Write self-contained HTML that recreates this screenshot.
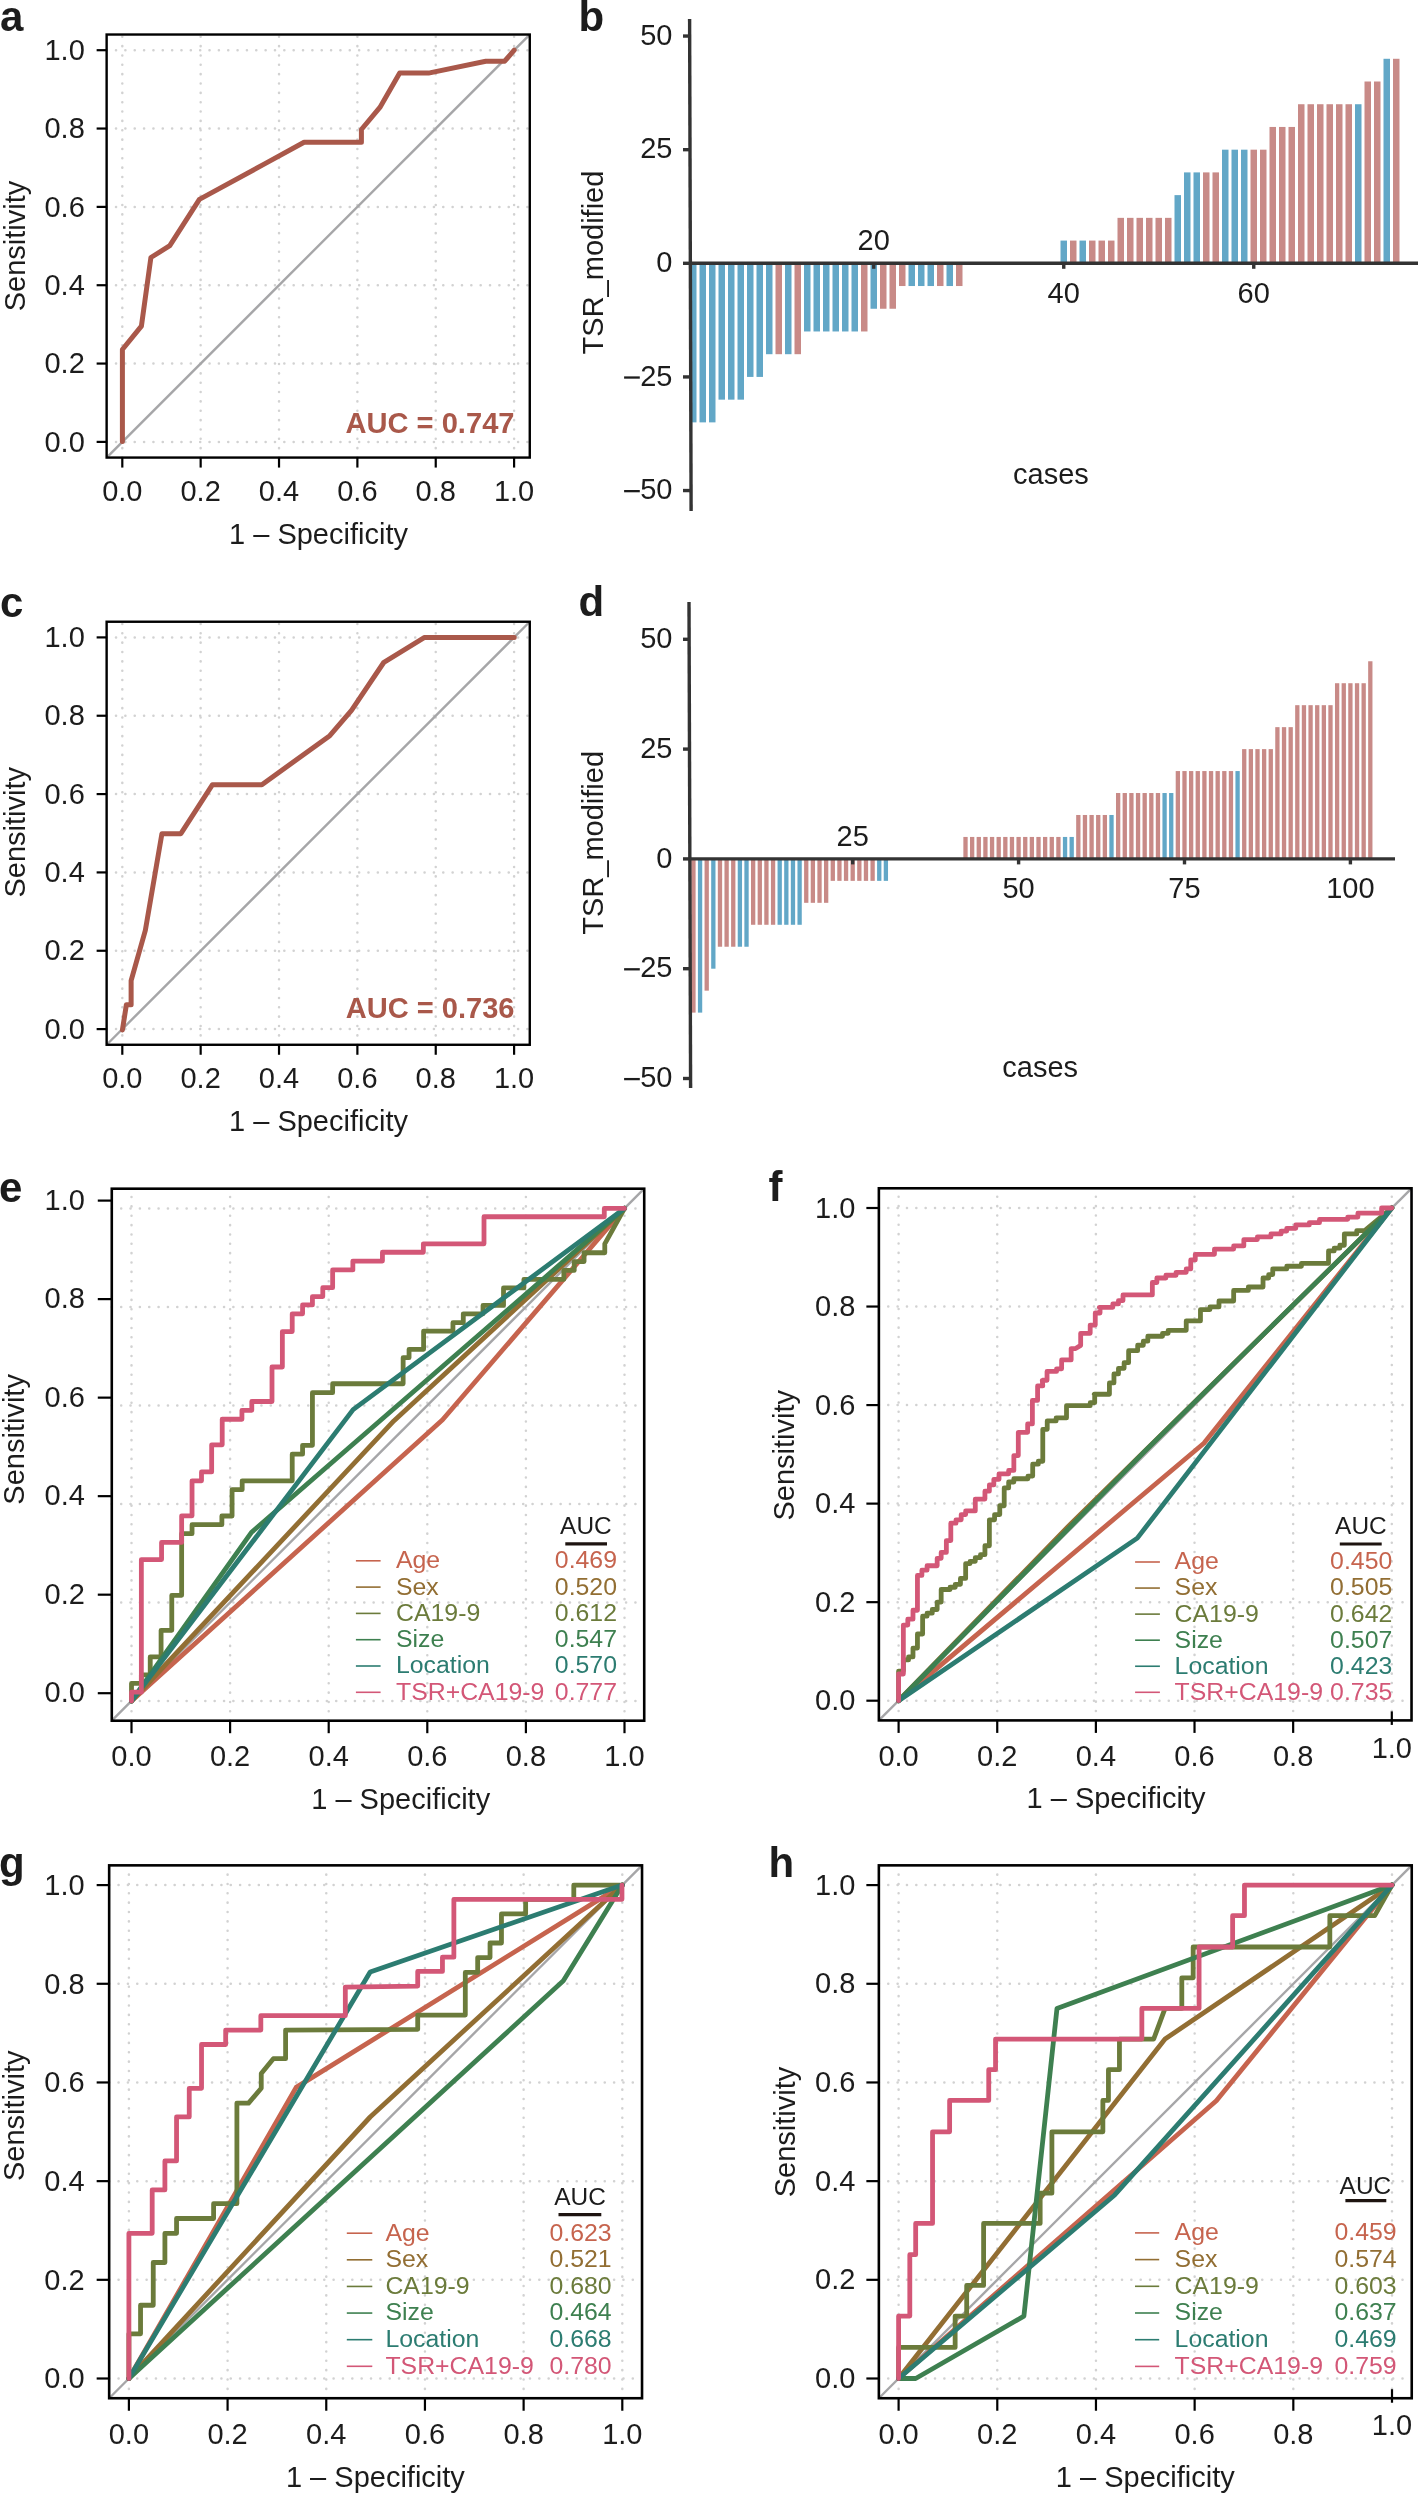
<!DOCTYPE html>
<html><head><meta charset="utf-8"><title>Figure</title><style>html,body{margin:0;padding:0;background:#fff;}svg{display:block;will-change:transform;}</style></head><body>
<svg width="1418" height="2493" viewBox="0 0 1418 2493" font-family='"Liberation Sans", sans-serif' fill="#1c1c1c">
<rect width="1418" height="2493" fill="#fff"/>
<line x1="122.3" y1="457.57" x2="122.3" y2="34.53" stroke="#d2d2d2" stroke-width="2.5" stroke-dasharray="0.1 9.25" stroke-linecap="round"/>
<line x1="106.63" y1="441.9" x2="529.77" y2="441.9" stroke="#d2d2d2" stroke-width="2.5" stroke-dasharray="0.1 9.25" stroke-linecap="round"/>
<line x1="200.66" y1="457.57" x2="200.66" y2="34.53" stroke="#d2d2d2" stroke-width="2.5" stroke-dasharray="0.1 9.25" stroke-linecap="round"/>
<line x1="106.63" y1="363.56" x2="529.77" y2="363.56" stroke="#d2d2d2" stroke-width="2.5" stroke-dasharray="0.1 9.25" stroke-linecap="round"/>
<line x1="279.02" y1="457.57" x2="279.02" y2="34.53" stroke="#d2d2d2" stroke-width="2.5" stroke-dasharray="0.1 9.25" stroke-linecap="round"/>
<line x1="106.63" y1="285.22" x2="529.77" y2="285.22" stroke="#d2d2d2" stroke-width="2.5" stroke-dasharray="0.1 9.25" stroke-linecap="round"/>
<line x1="357.38" y1="457.57" x2="357.38" y2="34.53" stroke="#d2d2d2" stroke-width="2.5" stroke-dasharray="0.1 9.25" stroke-linecap="round"/>
<line x1="106.63" y1="206.88" x2="529.77" y2="206.88" stroke="#d2d2d2" stroke-width="2.5" stroke-dasharray="0.1 9.25" stroke-linecap="round"/>
<line x1="435.74" y1="457.57" x2="435.74" y2="34.53" stroke="#d2d2d2" stroke-width="2.5" stroke-dasharray="0.1 9.25" stroke-linecap="round"/>
<line x1="106.63" y1="128.54" x2="529.77" y2="128.54" stroke="#d2d2d2" stroke-width="2.5" stroke-dasharray="0.1 9.25" stroke-linecap="round"/>
<line x1="514.1" y1="457.57" x2="514.1" y2="34.53" stroke="#d2d2d2" stroke-width="2.5" stroke-dasharray="0.1 9.25" stroke-linecap="round"/>
<line x1="106.63" y1="50.2" x2="529.77" y2="50.2" stroke="#d2d2d2" stroke-width="2.5" stroke-dasharray="0.1 9.25" stroke-linecap="round"/>
<line x1="106.63" y1="457.57" x2="529.77" y2="34.53" stroke="#a6a6a8" stroke-width="2.4"/>
<polyline points="122.4,441.5 122.4,349.5 141.4,326.2 150.9,257.5 169.8,245.7 199.4,199.4 264.6,163.9 304.1,142.2 361.4,142.2 361.4,129.5 379.9,107.4 399.7,73.1 428.5,73.1 485.8,61.2 504.7,61.2 514.2,50.2" fill="none" stroke="#a9584a" stroke-width="5" stroke-linejoin="round" stroke-linecap="round"/>
<rect x="106.63" y="34.53" width="423.14" height="423.04" fill="none" stroke="#000" stroke-width="2.4"/>
<line x1="106.63" y1="441.9" x2="96.63" y2="441.9" stroke="#000" stroke-width="2.2"/>
<line x1="122.3" y1="457.57" x2="122.3" y2="467.57" stroke="#000" stroke-width="2.2"/>
<text x="84.8" y="451.6" font-size="29" text-anchor="end">0.0</text>
<text x="122.3" y="501.4" font-size="29" text-anchor="middle">0.0</text>
<line x1="106.63" y1="363.56" x2="96.63" y2="363.56" stroke="#000" stroke-width="2.2"/>
<line x1="200.66" y1="457.57" x2="200.66" y2="467.57" stroke="#000" stroke-width="2.2"/>
<text x="84.8" y="373.26" font-size="29" text-anchor="end">0.2</text>
<text x="200.66" y="501.4" font-size="29" text-anchor="middle">0.2</text>
<line x1="106.63" y1="285.22" x2="96.63" y2="285.22" stroke="#000" stroke-width="2.2"/>
<line x1="279.02" y1="457.57" x2="279.02" y2="467.57" stroke="#000" stroke-width="2.2"/>
<text x="84.8" y="294.92" font-size="29" text-anchor="end">0.4</text>
<text x="279.02" y="501.4" font-size="29" text-anchor="middle">0.4</text>
<line x1="106.63" y1="206.88" x2="96.63" y2="206.88" stroke="#000" stroke-width="2.2"/>
<line x1="357.38" y1="457.57" x2="357.38" y2="467.57" stroke="#000" stroke-width="2.2"/>
<text x="84.8" y="216.58" font-size="29" text-anchor="end">0.6</text>
<text x="357.38" y="501.4" font-size="29" text-anchor="middle">0.6</text>
<line x1="106.63" y1="128.54" x2="96.63" y2="128.54" stroke="#000" stroke-width="2.2"/>
<line x1="435.74" y1="457.57" x2="435.74" y2="467.57" stroke="#000" stroke-width="2.2"/>
<text x="84.8" y="138.24" font-size="29" text-anchor="end">0.8</text>
<text x="435.74" y="501.4" font-size="29" text-anchor="middle">0.8</text>
<line x1="106.63" y1="50.2" x2="96.63" y2="50.2" stroke="#000" stroke-width="2.2"/>
<line x1="514.1" y1="457.57" x2="514.1" y2="467.57" stroke="#000" stroke-width="2.2"/>
<text x="84.8" y="59.9" font-size="29" text-anchor="end">1.0</text>
<text x="514.1" y="501.4" font-size="29" text-anchor="middle">1.0</text>
<text x="318.5" y="544.2" font-size="29" text-anchor="middle">1 – Specificity</text>
<text x="25.1" y="246" font-size="29" text-anchor="middle" transform="rotate(-90 25.1 246)">Sensitivity</text>
<text x="514.5" y="432.9" font-size="30.2" text-anchor="end" font-weight="bold" fill="#a9584a" textLength="169" lengthAdjust="spacingAndGlyphs">AUC = 0.747</text>
<text x="0" y="30.5" font-size="42" font-weight="bold">a</text>
<line x1="122.3" y1="1044.77" x2="122.3" y2="621.73" stroke="#d2d2d2" stroke-width="2.5" stroke-dasharray="0.1 9.25" stroke-linecap="round"/>
<line x1="106.63" y1="1029.1" x2="529.77" y2="1029.1" stroke="#d2d2d2" stroke-width="2.5" stroke-dasharray="0.1 9.25" stroke-linecap="round"/>
<line x1="200.66" y1="1044.77" x2="200.66" y2="621.73" stroke="#d2d2d2" stroke-width="2.5" stroke-dasharray="0.1 9.25" stroke-linecap="round"/>
<line x1="106.63" y1="950.76" x2="529.77" y2="950.76" stroke="#d2d2d2" stroke-width="2.5" stroke-dasharray="0.1 9.25" stroke-linecap="round"/>
<line x1="279.02" y1="1044.77" x2="279.02" y2="621.73" stroke="#d2d2d2" stroke-width="2.5" stroke-dasharray="0.1 9.25" stroke-linecap="round"/>
<line x1="106.63" y1="872.42" x2="529.77" y2="872.42" stroke="#d2d2d2" stroke-width="2.5" stroke-dasharray="0.1 9.25" stroke-linecap="round"/>
<line x1="357.38" y1="1044.77" x2="357.38" y2="621.73" stroke="#d2d2d2" stroke-width="2.5" stroke-dasharray="0.1 9.25" stroke-linecap="round"/>
<line x1="106.63" y1="794.08" x2="529.77" y2="794.08" stroke="#d2d2d2" stroke-width="2.5" stroke-dasharray="0.1 9.25" stroke-linecap="round"/>
<line x1="435.74" y1="1044.77" x2="435.74" y2="621.73" stroke="#d2d2d2" stroke-width="2.5" stroke-dasharray="0.1 9.25" stroke-linecap="round"/>
<line x1="106.63" y1="715.74" x2="529.77" y2="715.74" stroke="#d2d2d2" stroke-width="2.5" stroke-dasharray="0.1 9.25" stroke-linecap="round"/>
<line x1="514.1" y1="1044.77" x2="514.1" y2="621.73" stroke="#d2d2d2" stroke-width="2.5" stroke-dasharray="0.1 9.25" stroke-linecap="round"/>
<line x1="106.63" y1="637.4" x2="529.77" y2="637.4" stroke="#d2d2d2" stroke-width="2.5" stroke-dasharray="0.1 9.25" stroke-linecap="round"/>
<line x1="106.63" y1="1044.77" x2="529.77" y2="621.73" stroke="#a6a6a8" stroke-width="2.4"/>
<polyline points="122.43,1029.95 126.38,1004.68 131.12,1004.68 131.12,980.58 145.34,930.43 161.93,833.66 180.88,833.66 212.48,784.69 261.85,784.69 329.78,735.72 351.5,710.44 383.89,662.26 424.57,637.38 514.22,637.38" fill="none" stroke="#a9584a" stroke-width="5" stroke-linejoin="round" stroke-linecap="round"/>
<rect x="106.63" y="621.73" width="423.14" height="423.04" fill="none" stroke="#000" stroke-width="2.4"/>
<line x1="106.63" y1="1029.1" x2="96.63" y2="1029.1" stroke="#000" stroke-width="2.2"/>
<line x1="122.3" y1="1044.77" x2="122.3" y2="1054.77" stroke="#000" stroke-width="2.2"/>
<text x="84.8" y="1038.8" font-size="29" text-anchor="end">0.0</text>
<text x="122.3" y="1087.7" font-size="29" text-anchor="middle">0.0</text>
<line x1="106.63" y1="950.76" x2="96.63" y2="950.76" stroke="#000" stroke-width="2.2"/>
<line x1="200.66" y1="1044.77" x2="200.66" y2="1054.77" stroke="#000" stroke-width="2.2"/>
<text x="84.8" y="960.46" font-size="29" text-anchor="end">0.2</text>
<text x="200.66" y="1087.7" font-size="29" text-anchor="middle">0.2</text>
<line x1="106.63" y1="872.42" x2="96.63" y2="872.42" stroke="#000" stroke-width="2.2"/>
<line x1="279.02" y1="1044.77" x2="279.02" y2="1054.77" stroke="#000" stroke-width="2.2"/>
<text x="84.8" y="882.12" font-size="29" text-anchor="end">0.4</text>
<text x="279.02" y="1087.7" font-size="29" text-anchor="middle">0.4</text>
<line x1="106.63" y1="794.08" x2="96.63" y2="794.08" stroke="#000" stroke-width="2.2"/>
<line x1="357.38" y1="1044.77" x2="357.38" y2="1054.77" stroke="#000" stroke-width="2.2"/>
<text x="84.8" y="803.78" font-size="29" text-anchor="end">0.6</text>
<text x="357.38" y="1087.7" font-size="29" text-anchor="middle">0.6</text>
<line x1="106.63" y1="715.74" x2="96.63" y2="715.74" stroke="#000" stroke-width="2.2"/>
<line x1="435.74" y1="1044.77" x2="435.74" y2="1054.77" stroke="#000" stroke-width="2.2"/>
<text x="84.8" y="725.44" font-size="29" text-anchor="end">0.8</text>
<text x="435.74" y="1087.7" font-size="29" text-anchor="middle">0.8</text>
<line x1="106.63" y1="637.4" x2="96.63" y2="637.4" stroke="#000" stroke-width="2.2"/>
<line x1="514.1" y1="1044.77" x2="514.1" y2="1054.77" stroke="#000" stroke-width="2.2"/>
<text x="84.8" y="647.1" font-size="29" text-anchor="end">1.0</text>
<text x="514.1" y="1087.7" font-size="29" text-anchor="middle">1.0</text>
<text x="318.5" y="1130.5" font-size="29" text-anchor="middle">1 – Specificity</text>
<text x="25.1" y="832.3" font-size="29" text-anchor="middle" transform="rotate(-90 25.1 832.3)">Sensitivity</text>
<text x="514.5" y="1018.4" font-size="30.2" text-anchor="end" font-weight="bold" fill="#a9584a" textLength="168.77" lengthAdjust="spacingAndGlyphs">AUC = 0.736</text>
<text x="0" y="616.8" font-size="42" font-weight="bold">c</text>
<rect x="690" y="263.3" width="6.5" height="159.07" fill="#62a7c7"/>
<rect x="699.5" y="263.3" width="6.5" height="159.07" fill="#62a7c7"/>
<rect x="709" y="263.3" width="6.5" height="159.07" fill="#62a7c7"/>
<rect x="718.5" y="263.3" width="6.5" height="136.35" fill="#62a7c7"/>
<rect x="728" y="263.3" width="6.5" height="136.35" fill="#62a7c7"/>
<rect x="737.5" y="263.3" width="6.5" height="136.35" fill="#62a7c7"/>
<rect x="747" y="263.3" width="6.5" height="113.62" fill="#62a7c7"/>
<rect x="756.5" y="263.3" width="6.5" height="113.62" fill="#62a7c7"/>
<rect x="766" y="263.3" width="6.5" height="90.9" fill="#62a7c7"/>
<rect x="775.5" y="263.3" width="6.5" height="90.9" fill="#c88a87"/>
<rect x="785" y="263.3" width="6.5" height="90.9" fill="#62a7c7"/>
<rect x="794.5" y="263.3" width="6.5" height="90.9" fill="#c88a87"/>
<rect x="804" y="263.3" width="6.5" height="68.17" fill="#62a7c7"/>
<rect x="813.5" y="263.3" width="6.5" height="68.17" fill="#62a7c7"/>
<rect x="823" y="263.3" width="6.5" height="68.17" fill="#62a7c7"/>
<rect x="832.5" y="263.3" width="6.5" height="68.17" fill="#62a7c7"/>
<rect x="842" y="263.3" width="6.5" height="68.17" fill="#62a7c7"/>
<rect x="851.5" y="263.3" width="6.5" height="68.17" fill="#62a7c7"/>
<rect x="861" y="263.3" width="6.5" height="68.17" fill="#c88a87"/>
<rect x="870.5" y="263.3" width="6.5" height="45.45" fill="#62a7c7"/>
<rect x="880" y="263.3" width="6.5" height="45.45" fill="#c88a87"/>
<rect x="889.5" y="263.3" width="6.5" height="45.45" fill="#c88a87"/>
<rect x="899" y="263.3" width="6.5" height="22.73" fill="#c88a87"/>
<rect x="908.5" y="263.3" width="6.5" height="22.73" fill="#62a7c7"/>
<rect x="918" y="263.3" width="6.5" height="22.73" fill="#62a7c7"/>
<rect x="927.5" y="263.3" width="6.5" height="22.73" fill="#62a7c7"/>
<rect x="937" y="263.3" width="6.5" height="22.73" fill="#c88a87"/>
<rect x="946.5" y="263.3" width="6.5" height="22.73" fill="#62a7c7"/>
<rect x="956" y="263.3" width="6.5" height="22.73" fill="#c88a87"/>
<rect x="1060.5" y="240.58" width="6.5" height="22.73" fill="#62a7c7"/>
<rect x="1070" y="240.58" width="6.5" height="22.73" fill="#c88a87"/>
<rect x="1079.5" y="240.58" width="6.5" height="22.73" fill="#62a7c7"/>
<rect x="1089" y="240.58" width="6.5" height="22.73" fill="#c88a87"/>
<rect x="1098.5" y="240.58" width="6.5" height="22.73" fill="#c88a87"/>
<rect x="1108" y="240.58" width="6.5" height="22.73" fill="#c88a87"/>
<rect x="1117.5" y="217.85" width="6.5" height="45.45" fill="#c88a87"/>
<rect x="1127" y="217.85" width="6.5" height="45.45" fill="#c88a87"/>
<rect x="1136.5" y="217.85" width="6.5" height="45.45" fill="#c88a87"/>
<rect x="1146" y="217.85" width="6.5" height="45.45" fill="#c88a87"/>
<rect x="1155.5" y="217.85" width="6.5" height="45.45" fill="#c88a87"/>
<rect x="1165" y="217.85" width="6.5" height="45.45" fill="#c88a87"/>
<rect x="1174.5" y="195.12" width="6.5" height="68.17" fill="#62a7c7"/>
<rect x="1184" y="172.4" width="6.5" height="90.9" fill="#62a7c7"/>
<rect x="1193.5" y="172.4" width="6.5" height="90.9" fill="#62a7c7"/>
<rect x="1203" y="172.4" width="6.5" height="90.9" fill="#c88a87"/>
<rect x="1212.5" y="172.4" width="6.5" height="90.9" fill="#c88a87"/>
<rect x="1222" y="149.68" width="6.5" height="113.62" fill="#62a7c7"/>
<rect x="1231.5" y="149.68" width="6.5" height="113.62" fill="#62a7c7"/>
<rect x="1241" y="149.68" width="6.5" height="113.62" fill="#62a7c7"/>
<rect x="1250.5" y="149.68" width="6.5" height="113.62" fill="#c88a87"/>
<rect x="1260" y="149.68" width="6.5" height="113.62" fill="#c88a87"/>
<rect x="1269.5" y="126.95" width="6.5" height="136.35" fill="#c88a87"/>
<rect x="1279" y="126.95" width="6.5" height="136.35" fill="#c88a87"/>
<rect x="1288.5" y="126.95" width="6.5" height="136.35" fill="#c88a87"/>
<rect x="1298" y="104.23" width="6.5" height="159.07" fill="#c88a87"/>
<rect x="1307.5" y="104.23" width="6.5" height="159.07" fill="#c88a87"/>
<rect x="1317" y="104.23" width="6.5" height="159.07" fill="#c88a87"/>
<rect x="1326.5" y="104.23" width="6.5" height="159.07" fill="#c88a87"/>
<rect x="1336" y="104.23" width="6.5" height="159.07" fill="#c88a87"/>
<rect x="1345.5" y="104.23" width="6.5" height="159.07" fill="#c88a87"/>
<rect x="1355" y="104.23" width="6.5" height="159.07" fill="#62a7c7"/>
<rect x="1364.5" y="81.5" width="6.5" height="181.8" fill="#c88a87"/>
<rect x="1374" y="81.5" width="6.5" height="181.8" fill="#c88a87"/>
<rect x="1383.5" y="58.78" width="6.5" height="204.53" fill="#62a7c7"/>
<rect x="1393" y="58.78" width="6.5" height="204.53" fill="#c88a87"/>
<line x1="689.6" y1="19" x2="691.1" y2="511" stroke="#333333" stroke-width="3.4"/>
<line x1="690.34" y1="263.3" x2="1418" y2="263.3" stroke="#333333" stroke-width="3.4"/>
<line x1="683" y1="36.05" x2="689.65" y2="36.05" stroke="#333333" stroke-width="3.4"/>
<text x="672.5" y="44.75" font-size="29" text-anchor="end">50</text>
<line x1="683" y1="149.68" x2="690" y2="149.68" stroke="#333333" stroke-width="3.4"/>
<text x="672.5" y="158.38" font-size="29" text-anchor="end">25</text>
<line x1="683" y1="263.3" x2="690.34" y2="263.3" stroke="#333333" stroke-width="3.4"/>
<text x="672.5" y="272" font-size="29" text-anchor="end">0</text>
<line x1="683" y1="376.93" x2="690.69" y2="376.93" stroke="#333333" stroke-width="3.4"/>
<text x="672.5" y="385.62" font-size="29" text-anchor="end">25</text>
<line x1="624.1" y1="377.53" x2="639.8" y2="377.53" stroke="#1c1c1c" stroke-width="2.3"/>
<line x1="683" y1="490.55" x2="691.04" y2="490.55" stroke="#333333" stroke-width="3.4"/>
<text x="672.5" y="499.25" font-size="29" text-anchor="end">50</text>
<line x1="624.1" y1="491.15" x2="639.8" y2="491.15" stroke="#1c1c1c" stroke-width="2.3"/>
<line x1="873.75" y1="263.3" x2="873.75" y2="268.8" stroke="#333333" stroke-width="3.4"/>
<text x="873.75" y="250.1" font-size="29" text-anchor="middle">20</text>
<line x1="1063.75" y1="263.3" x2="1063.75" y2="268.8" stroke="#333333" stroke-width="3.4"/>
<text x="1063.75" y="302.8" font-size="29" text-anchor="middle">40</text>
<line x1="1253.75" y1="263.3" x2="1253.75" y2="268.8" stroke="#333333" stroke-width="3.4"/>
<text x="1253.75" y="302.8" font-size="29" text-anchor="middle">60</text>
<text x="602.8" y="262.5" font-size="29" text-anchor="middle" transform="rotate(-90 602.8 262.5)">TSR_modified</text>
<text x="1051" y="484" font-size="29" text-anchor="middle">cases</text>
<text x="578.5" y="30.5" font-size="42" font-weight="bold">b</text>
<rect x="691.29" y="858.9" width="4.3" height="153.72" fill="#c88a87"/>
<rect x="697.92" y="858.9" width="4.3" height="153.72" fill="#62a7c7"/>
<rect x="704.56" y="858.9" width="4.3" height="131.76" fill="#c88a87"/>
<rect x="711.19" y="858.9" width="4.3" height="109.8" fill="#62a7c7"/>
<rect x="717.83" y="858.9" width="4.3" height="87.84" fill="#c88a87"/>
<rect x="724.47" y="858.9" width="4.3" height="87.84" fill="#c88a87"/>
<rect x="731.1" y="858.9" width="4.3" height="87.84" fill="#c88a87"/>
<rect x="737.74" y="858.9" width="4.3" height="87.84" fill="#62a7c7"/>
<rect x="744.37" y="858.9" width="4.3" height="87.84" fill="#62a7c7"/>
<rect x="751.01" y="858.9" width="4.3" height="65.88" fill="#c88a87"/>
<rect x="757.65" y="858.9" width="4.3" height="65.88" fill="#c88a87"/>
<rect x="764.28" y="858.9" width="4.3" height="65.88" fill="#c88a87"/>
<rect x="770.92" y="858.9" width="4.3" height="65.88" fill="#c88a87"/>
<rect x="777.55" y="858.9" width="4.3" height="65.88" fill="#62a7c7"/>
<rect x="784.19" y="858.9" width="4.3" height="65.88" fill="#62a7c7"/>
<rect x="790.83" y="858.9" width="4.3" height="65.88" fill="#62a7c7"/>
<rect x="797.46" y="858.9" width="4.3" height="65.88" fill="#62a7c7"/>
<rect x="804.1" y="858.9" width="4.3" height="43.92" fill="#c88a87"/>
<rect x="810.73" y="858.9" width="4.3" height="43.92" fill="#c88a87"/>
<rect x="817.37" y="858.9" width="4.3" height="43.92" fill="#c88a87"/>
<rect x="824.01" y="858.9" width="4.3" height="43.92" fill="#c88a87"/>
<rect x="830.64" y="858.9" width="4.3" height="21.96" fill="#c88a87"/>
<rect x="837.28" y="858.9" width="4.3" height="21.96" fill="#c88a87"/>
<rect x="843.91" y="858.9" width="4.3" height="21.96" fill="#c88a87"/>
<rect x="850.55" y="858.9" width="4.3" height="21.96" fill="#c88a87"/>
<rect x="857.19" y="858.9" width="4.3" height="21.96" fill="#c88a87"/>
<rect x="863.82" y="858.9" width="4.3" height="21.96" fill="#c88a87"/>
<rect x="870.46" y="858.9" width="4.3" height="21.96" fill="#c88a87"/>
<rect x="877.09" y="858.9" width="4.3" height="21.96" fill="#62a7c7"/>
<rect x="883.73" y="858.9" width="4.3" height="21.96" fill="#62a7c7"/>
<rect x="963.36" y="836.94" width="4.3" height="21.96" fill="#c88a87"/>
<rect x="970" y="836.94" width="4.3" height="21.96" fill="#c88a87"/>
<rect x="976.63" y="836.94" width="4.3" height="21.96" fill="#c88a87"/>
<rect x="983.27" y="836.94" width="4.3" height="21.96" fill="#c88a87"/>
<rect x="989.91" y="836.94" width="4.3" height="21.96" fill="#c88a87"/>
<rect x="996.54" y="836.94" width="4.3" height="21.96" fill="#c88a87"/>
<rect x="1003.18" y="836.94" width="4.3" height="21.96" fill="#c88a87"/>
<rect x="1009.81" y="836.94" width="4.3" height="21.96" fill="#c88a87"/>
<rect x="1016.45" y="836.94" width="4.3" height="21.96" fill="#c88a87"/>
<rect x="1023.09" y="836.94" width="4.3" height="21.96" fill="#c88a87"/>
<rect x="1029.72" y="836.94" width="4.3" height="21.96" fill="#c88a87"/>
<rect x="1036.36" y="836.94" width="4.3" height="21.96" fill="#c88a87"/>
<rect x="1042.99" y="836.94" width="4.3" height="21.96" fill="#c88a87"/>
<rect x="1049.63" y="836.94" width="4.3" height="21.96" fill="#c88a87"/>
<rect x="1056.27" y="836.94" width="4.3" height="21.96" fill="#c88a87"/>
<rect x="1062.9" y="836.94" width="4.3" height="21.96" fill="#62a7c7"/>
<rect x="1069.54" y="836.94" width="4.3" height="21.96" fill="#62a7c7"/>
<rect x="1076.17" y="814.98" width="4.3" height="43.92" fill="#c88a87"/>
<rect x="1082.81" y="814.98" width="4.3" height="43.92" fill="#c88a87"/>
<rect x="1089.45" y="814.98" width="4.3" height="43.92" fill="#c88a87"/>
<rect x="1096.08" y="814.98" width="4.3" height="43.92" fill="#c88a87"/>
<rect x="1102.72" y="814.98" width="4.3" height="43.92" fill="#c88a87"/>
<rect x="1109.35" y="814.98" width="4.3" height="43.92" fill="#62a7c7"/>
<rect x="1115.99" y="793.02" width="4.3" height="65.88" fill="#c88a87"/>
<rect x="1122.63" y="793.02" width="4.3" height="65.88" fill="#c88a87"/>
<rect x="1129.26" y="793.02" width="4.3" height="65.88" fill="#c88a87"/>
<rect x="1135.9" y="793.02" width="4.3" height="65.88" fill="#c88a87"/>
<rect x="1142.53" y="793.02" width="4.3" height="65.88" fill="#c88a87"/>
<rect x="1149.17" y="793.02" width="4.3" height="65.88" fill="#c88a87"/>
<rect x="1155.81" y="793.02" width="4.3" height="65.88" fill="#c88a87"/>
<rect x="1162.44" y="793.02" width="4.3" height="65.88" fill="#62a7c7"/>
<rect x="1169.08" y="793.02" width="4.3" height="65.88" fill="#62a7c7"/>
<rect x="1175.71" y="771.06" width="4.3" height="87.84" fill="#c88a87"/>
<rect x="1182.35" y="771.06" width="4.3" height="87.84" fill="#c88a87"/>
<rect x="1188.99" y="771.06" width="4.3" height="87.84" fill="#c88a87"/>
<rect x="1195.62" y="771.06" width="4.3" height="87.84" fill="#c88a87"/>
<rect x="1202.26" y="771.06" width="4.3" height="87.84" fill="#c88a87"/>
<rect x="1208.89" y="771.06" width="4.3" height="87.84" fill="#c88a87"/>
<rect x="1215.53" y="771.06" width="4.3" height="87.84" fill="#c88a87"/>
<rect x="1222.17" y="771.06" width="4.3" height="87.84" fill="#c88a87"/>
<rect x="1228.8" y="771.06" width="4.3" height="87.84" fill="#c88a87"/>
<rect x="1235.44" y="771.06" width="4.3" height="87.84" fill="#62a7c7"/>
<rect x="1242.07" y="749.1" width="4.3" height="109.8" fill="#c88a87"/>
<rect x="1248.71" y="749.1" width="4.3" height="109.8" fill="#c88a87"/>
<rect x="1255.35" y="749.1" width="4.3" height="109.8" fill="#c88a87"/>
<rect x="1261.98" y="749.1" width="4.3" height="109.8" fill="#c88a87"/>
<rect x="1268.62" y="749.1" width="4.3" height="109.8" fill="#c88a87"/>
<rect x="1275.25" y="727.14" width="4.3" height="131.76" fill="#c88a87"/>
<rect x="1281.89" y="727.14" width="4.3" height="131.76" fill="#c88a87"/>
<rect x="1288.53" y="727.14" width="4.3" height="131.76" fill="#c88a87"/>
<rect x="1295.16" y="705.18" width="4.3" height="153.72" fill="#c88a87"/>
<rect x="1301.8" y="705.18" width="4.3" height="153.72" fill="#c88a87"/>
<rect x="1308.43" y="705.18" width="4.3" height="153.72" fill="#c88a87"/>
<rect x="1315.07" y="705.18" width="4.3" height="153.72" fill="#c88a87"/>
<rect x="1321.71" y="705.18" width="4.3" height="153.72" fill="#c88a87"/>
<rect x="1328.34" y="705.18" width="4.3" height="153.72" fill="#c88a87"/>
<rect x="1334.98" y="683.22" width="4.3" height="175.68" fill="#c88a87"/>
<rect x="1341.61" y="683.22" width="4.3" height="175.68" fill="#c88a87"/>
<rect x="1348.25" y="683.22" width="4.3" height="175.68" fill="#c88a87"/>
<rect x="1354.89" y="683.22" width="4.3" height="175.68" fill="#c88a87"/>
<rect x="1361.52" y="683.22" width="4.3" height="175.68" fill="#c88a87"/>
<rect x="1368.16" y="661.26" width="4.3" height="197.64" fill="#c88a87"/>
<line x1="689" y1="602" x2="690.6" y2="1088" stroke="#333333" stroke-width="3.4"/>
<line x1="689.85" y1="858.9" x2="1395" y2="858.9" stroke="#333333" stroke-width="3.4"/>
<line x1="683" y1="639.3" x2="689.12" y2="639.3" stroke="#333333" stroke-width="3.4"/>
<text x="672.5" y="648" font-size="29" text-anchor="end">50</text>
<line x1="683" y1="749.1" x2="689.48" y2="749.1" stroke="#333333" stroke-width="3.4"/>
<text x="672.5" y="757.8" font-size="29" text-anchor="end">25</text>
<line x1="683" y1="858.9" x2="689.85" y2="858.9" stroke="#333333" stroke-width="3.4"/>
<text x="672.5" y="867.6" font-size="29" text-anchor="end">0</text>
<line x1="683" y1="968.7" x2="690.21" y2="968.7" stroke="#333333" stroke-width="3.4"/>
<text x="672.5" y="977.4" font-size="29" text-anchor="end">25</text>
<line x1="624.1" y1="969.3" x2="639.8" y2="969.3" stroke="#1c1c1c" stroke-width="2.3"/>
<line x1="683" y1="1078.5" x2="690.57" y2="1078.5" stroke="#333333" stroke-width="3.4"/>
<text x="672.5" y="1087.2" font-size="29" text-anchor="end">50</text>
<line x1="624.1" y1="1079.1" x2="639.8" y2="1079.1" stroke="#1c1c1c" stroke-width="2.3"/>
<line x1="852.7" y1="858.9" x2="852.7" y2="864.4" stroke="#333333" stroke-width="3.4"/>
<text x="852.7" y="845.7" font-size="29" text-anchor="middle">25</text>
<line x1="1018.6" y1="858.9" x2="1018.6" y2="864.4" stroke="#333333" stroke-width="3.4"/>
<text x="1018.6" y="898.4" font-size="29" text-anchor="middle">50</text>
<line x1="1184.5" y1="858.9" x2="1184.5" y2="864.4" stroke="#333333" stroke-width="3.4"/>
<text x="1184.5" y="898.4" font-size="29" text-anchor="middle">75</text>
<line x1="1350.4" y1="858.9" x2="1350.4" y2="864.4" stroke="#333333" stroke-width="3.4"/>
<text x="1350.4" y="898.4" font-size="29" text-anchor="middle">100</text>
<text x="602.8" y="842.8" font-size="29" text-anchor="middle" transform="rotate(-90 602.8 842.8)">TSR_modified</text>
<text x="1040.2" y="1076.7" font-size="29" text-anchor="middle">cases</text>
<text x="578.5" y="616" font-size="42" font-weight="bold">d</text>
<line x1="131.5" y1="1720.7" x2="131.5" y2="1188.7" stroke="#d2d2d2" stroke-width="2.5" stroke-dasharray="0.1 9.25" stroke-linecap="round"/>
<line x1="111.78" y1="1701" x2="644.22" y2="1701" stroke="#d2d2d2" stroke-width="2.5" stroke-dasharray="0.1 9.25" stroke-linecap="round"/>
<line x1="230.1" y1="1720.7" x2="230.1" y2="1188.7" stroke="#d2d2d2" stroke-width="2.5" stroke-dasharray="0.1 9.25" stroke-linecap="round"/>
<line x1="111.78" y1="1602.48" x2="644.22" y2="1602.48" stroke="#d2d2d2" stroke-width="2.5" stroke-dasharray="0.1 9.25" stroke-linecap="round"/>
<line x1="328.7" y1="1720.7" x2="328.7" y2="1188.7" stroke="#d2d2d2" stroke-width="2.5" stroke-dasharray="0.1 9.25" stroke-linecap="round"/>
<line x1="111.78" y1="1503.96" x2="644.22" y2="1503.96" stroke="#d2d2d2" stroke-width="2.5" stroke-dasharray="0.1 9.25" stroke-linecap="round"/>
<line x1="427.3" y1="1720.7" x2="427.3" y2="1188.7" stroke="#d2d2d2" stroke-width="2.5" stroke-dasharray="0.1 9.25" stroke-linecap="round"/>
<line x1="111.78" y1="1405.44" x2="644.22" y2="1405.44" stroke="#d2d2d2" stroke-width="2.5" stroke-dasharray="0.1 9.25" stroke-linecap="round"/>
<line x1="525.9" y1="1720.7" x2="525.9" y2="1188.7" stroke="#d2d2d2" stroke-width="2.5" stroke-dasharray="0.1 9.25" stroke-linecap="round"/>
<line x1="111.78" y1="1306.92" x2="644.22" y2="1306.92" stroke="#d2d2d2" stroke-width="2.5" stroke-dasharray="0.1 9.25" stroke-linecap="round"/>
<line x1="624.5" y1="1720.7" x2="624.5" y2="1188.7" stroke="#d2d2d2" stroke-width="2.5" stroke-dasharray="0.1 9.25" stroke-linecap="round"/>
<line x1="111.78" y1="1208.4" x2="644.22" y2="1208.4" stroke="#d2d2d2" stroke-width="2.5" stroke-dasharray="0.1 9.25" stroke-linecap="round"/>
<line x1="111.78" y1="1720.7" x2="644.22" y2="1188.7" stroke="#a6a6a8" stroke-width="2.4"/>
<polyline points="131.5,1701 442.58,1419.73 624.5,1208.4" fill="none" stroke="#c6644e" stroke-width="4.8" stroke-linejoin="round" stroke-linecap="round"/>
<polyline points="131.5,1701 393.78,1420.96 624.5,1208.4" fill="none" stroke="#926e33" stroke-width="4.8" stroke-linejoin="round" stroke-linecap="round"/>
<polyline points="131.5,1701 131.5,1683.46 141.36,1683.46 141.36,1674.89 150.23,1674.89 150.23,1656.91 161.08,1656.91 161.08,1630.36 171.78,1630.36 171.78,1595.29 181.64,1595.29 181.64,1533.66 192.04,1533.66 192.04,1524.65 221.87,1524.65 221.87,1515.98 232.07,1515.98 232.07,1489.67 242.18,1489.67 242.18,1480.81 292.22,1480.81 292.22,1454.21 302.57,1454.21 302.57,1445.34 312.43,1445.34 312.43,1392.63 332.64,1392.63 332.64,1383.77 403.14,1383.77 403.14,1357.66 409.06,1357.66 409.06,1349.28 423.6,1349.28 423.6,1331.06 452.94,1331.06 452.94,1322.68 463.29,1322.68 463.29,1313.82 483.01,1313.82 483.01,1305.44 503.52,1305.44 503.52,1287.95 523.93,1287.95 523.93,1279.33 563.86,1279.33 563.86,1270.47 574.21,1270.47 574.21,1261.6 584.07,1261.6 584.07,1252.73 604.78,1252.73 604.78,1243.87 624.5,1208.4" fill="none" stroke="#6b7b3b" stroke-width="4.8" stroke-linejoin="round" stroke-linecap="round"/>
<polyline points="131.5,1701 251.3,1532.53 624.5,1208.4" fill="none" stroke="#3e8050" stroke-width="4.8" stroke-linejoin="round" stroke-linecap="round"/>
<polyline points="131.5,1701 353.1,1409.63 624.5,1208.4" fill="none" stroke="#2c7c71" stroke-width="4.8" stroke-linejoin="round" stroke-linecap="round"/>
<polyline points="131.5,1701 131.5,1692.13 141.36,1692.13 141.36,1559.62 161.57,1559.62 161.57,1542.38 181.64,1542.38 181.64,1515.78 192.04,1515.78 192.04,1480.81 201.51,1480.81 201.51,1471.94 211.66,1471.94 211.66,1444.85 222.21,1444.85 222.21,1419.23 241.93,1419.23 241.93,1410.37 251.79,1410.37 251.79,1401.5 272,1401.5 272,1367.02 282.36,1367.02 282.36,1331.55 292.22,1331.55 292.22,1313.82 302.57,1313.82 302.57,1304.95 312.43,1304.95 312.43,1296.58 322.78,1296.58 322.78,1287.71 332.64,1287.71 332.64,1269.97 352.86,1269.97 352.86,1261.11 382.44,1261.11 382.44,1252.24 423.36,1252.24 423.36,1243.87 484,1243.87 484,1216.77 604.29,1216.77 604.29,1208.4 624.5,1208.4" fill="none" stroke="#d35777" stroke-width="4.8" stroke-linejoin="round" stroke-linecap="round"/>
<rect x="111.78" y="1188.7" width="532.44" height="532.01" fill="none" stroke="#000" stroke-width="2.6"/>
<line x1="111.78" y1="1693.2" x2="97.78" y2="1693.2" stroke="#000" stroke-width="2.2"/>
<text x="84.9" y="1702.4" font-size="29" text-anchor="end">0.0</text>
<line x1="131.5" y1="1720.7" x2="131.5" y2="1733.2" stroke="#000" stroke-width="2.2"/>
<text x="131.5" y="1766" font-size="29" text-anchor="middle">0.0</text>
<line x1="111.78" y1="1594.68" x2="97.78" y2="1594.68" stroke="#000" stroke-width="2.2"/>
<text x="84.9" y="1603.88" font-size="29" text-anchor="end">0.2</text>
<line x1="230.1" y1="1720.7" x2="230.1" y2="1733.2" stroke="#000" stroke-width="2.2"/>
<text x="230.1" y="1766" font-size="29" text-anchor="middle">0.2</text>
<line x1="111.78" y1="1496.16" x2="97.78" y2="1496.16" stroke="#000" stroke-width="2.2"/>
<text x="84.9" y="1505.36" font-size="29" text-anchor="end">0.4</text>
<line x1="328.7" y1="1720.7" x2="328.7" y2="1733.2" stroke="#000" stroke-width="2.2"/>
<text x="328.7" y="1766" font-size="29" text-anchor="middle">0.4</text>
<line x1="111.78" y1="1397.64" x2="97.78" y2="1397.64" stroke="#000" stroke-width="2.2"/>
<text x="84.9" y="1406.84" font-size="29" text-anchor="end">0.6</text>
<line x1="427.3" y1="1720.7" x2="427.3" y2="1733.2" stroke="#000" stroke-width="2.2"/>
<text x="427.3" y="1766" font-size="29" text-anchor="middle">0.6</text>
<line x1="111.78" y1="1299.12" x2="97.78" y2="1299.12" stroke="#000" stroke-width="2.2"/>
<text x="84.9" y="1308.32" font-size="29" text-anchor="end">0.8</text>
<line x1="525.9" y1="1720.7" x2="525.9" y2="1733.2" stroke="#000" stroke-width="2.2"/>
<text x="525.9" y="1766" font-size="29" text-anchor="middle">0.8</text>
<line x1="111.78" y1="1200.6" x2="97.78" y2="1200.6" stroke="#000" stroke-width="2.2"/>
<text x="84.9" y="1209.8" font-size="29" text-anchor="end">1.0</text>
<line x1="624.5" y1="1720.7" x2="624.5" y2="1733.2" stroke="#000" stroke-width="2.2"/>
<text x="624.5" y="1766" font-size="29" text-anchor="middle">1.0</text>
<text x="400.7" y="1809" font-size="29" text-anchor="middle">1 – Specificity</text>
<text x="24.5" y="1439.4" font-size="29" text-anchor="middle" transform="rotate(-90 24.5 1439.4)">Sensitivity</text>
<line x1="355.9" y1="1560.8" x2="380.6" y2="1560.8" stroke="#c6644e" stroke-width="1.6"/>
<text x="396" y="1568.2" font-size="23" fill="#c6644e" textLength="44.2" lengthAdjust="spacingAndGlyphs">Age</text>
<text x="617" y="1568.2" font-size="23" text-anchor="end" fill="#c6644e" textLength="62.16" lengthAdjust="spacingAndGlyphs">0.469</text>
<line x1="355.9" y1="1587.1" x2="380.6" y2="1587.1" stroke="#926e33" stroke-width="1.6"/>
<text x="396" y="1594.5" font-size="23" fill="#926e33" textLength="42.8" lengthAdjust="spacingAndGlyphs">Sex</text>
<text x="617" y="1594.5" font-size="23" text-anchor="end" fill="#926e33" textLength="62.16" lengthAdjust="spacingAndGlyphs">0.520</text>
<line x1="355.9" y1="1613.4" x2="380.6" y2="1613.4" stroke="#6b7b3b" stroke-width="1.6"/>
<text x="396" y="1620.8" font-size="23" fill="#6b7b3b" textLength="84.22" lengthAdjust="spacingAndGlyphs">CA19-9</text>
<text x="617" y="1620.8" font-size="23" text-anchor="end" fill="#6b7b3b" textLength="62.16" lengthAdjust="spacingAndGlyphs">0.612</text>
<line x1="355.9" y1="1639.7" x2="380.6" y2="1639.7" stroke="#3e8050" stroke-width="1.6"/>
<text x="396" y="1647.1" font-size="23" fill="#3e8050" textLength="48.32" lengthAdjust="spacingAndGlyphs">Size</text>
<text x="617" y="1647.1" font-size="23" text-anchor="end" fill="#3e8050" textLength="62.16" lengthAdjust="spacingAndGlyphs">0.547</text>
<line x1="355.9" y1="1666" x2="380.6" y2="1666" stroke="#2c7c71" stroke-width="1.6"/>
<text x="396" y="1673.4" font-size="23" fill="#2c7c71" textLength="93.91" lengthAdjust="spacingAndGlyphs">Location</text>
<text x="617" y="1673.4" font-size="23" text-anchor="end" fill="#2c7c71" textLength="62.16" lengthAdjust="spacingAndGlyphs">0.570</text>
<line x1="355.9" y1="1692.3" x2="380.6" y2="1692.3" stroke="#d35777" stroke-width="1.6"/>
<text x="396" y="1699.7" font-size="23" fill="#d35777" textLength="148.41" lengthAdjust="spacingAndGlyphs">TSR+CA19-9</text>
<text x="617" y="1699.7" font-size="23" text-anchor="end" fill="#d35777" textLength="62.16" lengthAdjust="spacingAndGlyphs">0.777</text>
<text x="585.9" y="1533.7" font-size="23.5" text-anchor="middle" textLength="51.6" lengthAdjust="spacingAndGlyphs">AUC</text>
<line x1="565.3" y1="1543.9" x2="607" y2="1543.9" stroke="#1e1410" stroke-width="3.2"/>
<text x="-1" y="1201.5" font-size="42" font-weight="bold">e</text>
<line x1="898.6" y1="1720.41" x2="898.6" y2="1188.29" stroke="#d2d2d2" stroke-width="2.5" stroke-dasharray="0.1 9.25" stroke-linecap="round"/>
<line x1="878.87" y1="1700.7" x2="1411.53" y2="1700.7" stroke="#d2d2d2" stroke-width="2.5" stroke-dasharray="0.1 9.25" stroke-linecap="round"/>
<line x1="997.24" y1="1720.41" x2="997.24" y2="1188.29" stroke="#d2d2d2" stroke-width="2.5" stroke-dasharray="0.1 9.25" stroke-linecap="round"/>
<line x1="878.87" y1="1602.16" x2="1411.53" y2="1602.16" stroke="#d2d2d2" stroke-width="2.5" stroke-dasharray="0.1 9.25" stroke-linecap="round"/>
<line x1="1095.88" y1="1720.41" x2="1095.88" y2="1188.29" stroke="#d2d2d2" stroke-width="2.5" stroke-dasharray="0.1 9.25" stroke-linecap="round"/>
<line x1="878.87" y1="1503.62" x2="1411.53" y2="1503.62" stroke="#d2d2d2" stroke-width="2.5" stroke-dasharray="0.1 9.25" stroke-linecap="round"/>
<line x1="1194.52" y1="1720.41" x2="1194.52" y2="1188.29" stroke="#d2d2d2" stroke-width="2.5" stroke-dasharray="0.1 9.25" stroke-linecap="round"/>
<line x1="878.87" y1="1405.08" x2="1411.53" y2="1405.08" stroke="#d2d2d2" stroke-width="2.5" stroke-dasharray="0.1 9.25" stroke-linecap="round"/>
<line x1="1293.16" y1="1720.41" x2="1293.16" y2="1188.29" stroke="#d2d2d2" stroke-width="2.5" stroke-dasharray="0.1 9.25" stroke-linecap="round"/>
<line x1="878.87" y1="1306.54" x2="1411.53" y2="1306.54" stroke="#d2d2d2" stroke-width="2.5" stroke-dasharray="0.1 9.25" stroke-linecap="round"/>
<line x1="1391.8" y1="1720.41" x2="1391.8" y2="1188.29" stroke="#d2d2d2" stroke-width="2.5" stroke-dasharray="0.1 9.25" stroke-linecap="round"/>
<line x1="878.87" y1="1208" x2="1411.53" y2="1208" stroke="#d2d2d2" stroke-width="2.5" stroke-dasharray="0.1 9.25" stroke-linecap="round"/>
<line x1="878.87" y1="1720.41" x2="1411.53" y2="1188.29" stroke="#a6a6a8" stroke-width="2.4"/>
<polyline points="898.6,1700.7 1203.89,1443.26 1391.8,1208" fill="none" stroke="#c6644e" stroke-width="4.8" stroke-linejoin="round" stroke-linecap="round"/>
<polyline points="898.6,1700.7 1071.22,1523.33 1391.8,1208" fill="none" stroke="#926e33" stroke-width="4.8" stroke-linejoin="round" stroke-linecap="round"/>
<polyline points="898.6,1700.7 898.6,1671.05 903.35,1671.05 903.35,1659.93 908.54,1659.93 908.54,1656.96 912.99,1656.96 912.99,1648.06 917.44,1648.06 917.44,1633.98 922.63,1633.98 922.63,1616.19 927.08,1616.19 927.08,1613.22 932.27,1613.22 932.27,1609.51 937.17,1609.51 937.17,1602.1 941.17,1602.1 941.17,1589.5 950.07,1589.5 950.07,1587.27 955.26,1587.27 955.26,1584.31 960.45,1584.31 960.45,1578.38 965.65,1578.38 965.65,1563.55 970.1,1563.55 970.1,1561.33 975.29,1561.33 975.29,1557.62 980.48,1557.62 980.48,1554.65 984.93,1554.65 984.93,1545.76 989.38,1545.76 989.38,1519.81 994.57,1519.81 994.57,1514.62 999.76,1514.62 999.76,1505.73 1004.21,1505.73 1004.21,1487.93 1008.66,1487.93 1008.66,1482 1013.85,1482 1013.85,1478.74 1027.94,1478.74 1027.94,1476.07 1032.69,1476.07 1032.69,1464.21 1038.33,1464.21 1038.33,1461.24 1042.78,1461.24 1042.78,1429.37 1047.23,1429.37 1047.23,1420.92 1056.13,1420.92 1056.13,1417.95 1066.51,1417.95 1066.51,1405.64 1090.24,1405.64 1090.24,1402.68 1094.69,1402.68 1094.69,1394.52 1094.3,1394.24 1109.43,1394.24 1109.43,1382.96 1113.95,1382.96 1113.95,1373.93 1118.47,1373.93 1118.47,1368.28 1124.11,1368.28 1124.11,1362.64 1128.63,1362.64 1128.63,1350.67 1137.67,1350.67 1137.67,1345.26 1143.31,1345.26 1143.31,1341.19 1147.83,1341.19 1147.83,1336.23 1162.51,1336.23 1162.51,1333.29 1168.16,1333.29 1168.16,1330.36 1186.23,1330.36 1186.23,1320.88 1200.46,1320.88 1200.46,1309.59 1209.95,1309.59 1209.95,1306.88 1218.98,1306.88 1218.98,1301.01 1233.66,1301.01 1233.66,1290.4 1248.35,1290.4 1248.35,1287.01 1263.03,1287.01 1263.03,1277.98 1268.68,1277.98 1268.68,1274.6 1272.74,1274.6 1272.74,1268.95 1286.75,1268.95 1286.75,1266.24 1301.43,1266.24 1301.43,1263.31 1328.53,1263.31 1328.53,1250.89 1334.18,1250.89 1334.18,1248.18 1339.83,1248.18 1339.83,1245.25 1344.34,1245.25 1344.34,1233.96 1356.77,1233.96 1356.77,1230.58 1364.67,1230.58 1391.78,1208" fill="none" stroke="#6b7b3b" stroke-width="4.8" stroke-linejoin="round" stroke-linecap="round"/>
<polyline points="898.6,1700.7 1145.2,1450.9 1391.8,1208" fill="none" stroke="#3e8050" stroke-width="4.8" stroke-linejoin="round" stroke-linecap="round"/>
<polyline points="898.6,1700.7 1137.31,1538.11 1391.8,1208" fill="none" stroke="#2c7c71" stroke-width="4.8" stroke-linejoin="round" stroke-linecap="round"/>
<polyline points="898.6,1700.7 898.6,1674.01 903.35,1674.01 903.35,1625.08 907.8,1625.08 907.8,1619.15 912.99,1619.15 912.99,1610.26 917.44,1610.26 917.44,1575.41 921.89,1575.41 921.89,1570.22 927.08,1570.22 927.08,1565.77 937.17,1565.77 937.17,1558.36 941.17,1558.36 941.17,1552.43 946.36,1552.43 946.36,1540.57 950.81,1540.57 950.81,1523.22 956,1523.22 956,1519.81 961.2,1519.81 961.2,1514.62 965.65,1514.62 965.65,1510.91 975.29,1510.91 975.29,1499.05 984.93,1499.05 984.93,1491.2 989.38,1491.2 989.38,1484.97 993.83,1484.97 993.83,1479.33 999.02,1479.33 999.02,1473.85 1008.66,1473.85 1008.66,1470.44 1013.85,1470.44 1013.85,1455.61 1018.3,1455.61 1018.3,1432.33 1027.65,1432.33 1027.65,1423.88 1032.39,1423.88 1032.39,1400.45 1037.59,1400.45 1037.59,1385.92 1042.78,1385.92 1042.28,1380.27 1047.04,1380.27 1047.04,1371.39 1056.56,1371.39 1056.56,1368.85 1061.63,1368.85 1061.63,1359.96 1071.15,1359.96 1071.15,1348.54 1075.6,1348.54 1080.67,1345.37 1080.67,1333.31 1090.19,1333.31 1090.19,1325.06 1095.27,1325.06 1095.27,1313 1100.03,1313 1100.03,1307.29 1099.27,1307.33 1112.82,1307.33 1112.82,1303.94 1118.47,1303.94 1118.47,1300.56 1122.99,1300.56 1122.99,1294.91 1152.35,1294.91 1152.35,1282.5 1156.87,1282.5 1156.87,1277.98 1165.9,1277.98 1165.9,1275.27 1176.07,1275.27 1176.07,1272.34 1186.23,1272.34 1186.23,1268.95 1190.75,1268.95 1190.75,1259.92 1195.27,1259.92 1195.27,1254.28 1214.46,1254.28 1214.46,1249.09 1233.66,1249.09 1233.66,1245.93 1243.83,1245.93 1243.83,1239.61 1257.38,1239.61 1257.38,1236.9 1270.93,1236.9 1270.93,1233.96 1281.1,1233.96 1281.1,1231.03 1286.75,1231.03 1286.75,1228.32 1295.78,1228.32 1295.78,1224.93 1309.33,1224.93 1309.33,1222.67 1319.5,1222.67 1319.5,1219.29 1347.73,1219.29 1347.73,1217.03 1357.9,1217.03 1357.9,1213.19 1381.61,1213.19 1381.61,1208 1391.78,1208" fill="none" stroke="#d35777" stroke-width="4.8" stroke-linejoin="round" stroke-linecap="round"/>
<rect x="878.87" y="1188.29" width="532.66" height="532.12" fill="none" stroke="#000" stroke-width="2.6"/>
<line x1="878.87" y1="1700.7" x2="866.37" y2="1700.7" stroke="#000" stroke-width="2.2"/>
<text x="855.4" y="1710.3" font-size="29" text-anchor="end">0.0</text>
<line x1="898.6" y1="1720.41" x2="898.6" y2="1732.91" stroke="#000" stroke-width="2.2"/>
<text x="898.6" y="1766" font-size="29" text-anchor="middle">0.0</text>
<line x1="878.87" y1="1602.16" x2="866.37" y2="1602.16" stroke="#000" stroke-width="2.2"/>
<text x="855.4" y="1611.76" font-size="29" text-anchor="end">0.2</text>
<line x1="997.24" y1="1720.41" x2="997.24" y2="1732.91" stroke="#000" stroke-width="2.2"/>
<text x="997.24" y="1766" font-size="29" text-anchor="middle">0.2</text>
<line x1="878.87" y1="1503.62" x2="866.37" y2="1503.62" stroke="#000" stroke-width="2.2"/>
<text x="855.4" y="1513.22" font-size="29" text-anchor="end">0.4</text>
<line x1="1095.88" y1="1720.41" x2="1095.88" y2="1732.91" stroke="#000" stroke-width="2.2"/>
<text x="1095.88" y="1766" font-size="29" text-anchor="middle">0.4</text>
<line x1="878.87" y1="1405.08" x2="866.37" y2="1405.08" stroke="#000" stroke-width="2.2"/>
<text x="855.4" y="1414.68" font-size="29" text-anchor="end">0.6</text>
<line x1="1194.52" y1="1720.41" x2="1194.52" y2="1732.91" stroke="#000" stroke-width="2.2"/>
<text x="1194.52" y="1766" font-size="29" text-anchor="middle">0.6</text>
<line x1="878.87" y1="1306.54" x2="866.37" y2="1306.54" stroke="#000" stroke-width="2.2"/>
<text x="855.4" y="1316.14" font-size="29" text-anchor="end">0.8</text>
<line x1="1293.16" y1="1720.41" x2="1293.16" y2="1732.91" stroke="#000" stroke-width="2.2"/>
<text x="1293.16" y="1766" font-size="29" text-anchor="middle">0.8</text>
<line x1="878.87" y1="1208" x2="866.37" y2="1208" stroke="#000" stroke-width="2.2"/>
<text x="855.4" y="1217.6" font-size="29" text-anchor="end">1.0</text>
<line x1="1391.8" y1="1711.41" x2="1391.8" y2="1724.91" stroke="#000" stroke-width="2.2"/>
<text x="1391.8" y="1758.2" font-size="29" text-anchor="middle">1.0</text>
<text x="1116" y="1808" font-size="29" text-anchor="middle">1 – Specificity</text>
<text x="794.5" y="1455.2" font-size="29" text-anchor="middle" transform="rotate(-90 794.5 1455.2)">Sensitivity</text>
<line x1="1135.1" y1="1562" x2="1159.9" y2="1562" stroke="#c6644e" stroke-width="1.6"/>
<text x="1174.6" y="1569.4" font-size="23" fill="#c6644e" textLength="44.2" lengthAdjust="spacingAndGlyphs">Age</text>
<text x="1392.3" y="1569.4" font-size="23" text-anchor="end" fill="#c6644e" textLength="62.16" lengthAdjust="spacingAndGlyphs">0.450</text>
<line x1="1135.1" y1="1588.06" x2="1159.9" y2="1588.06" stroke="#926e33" stroke-width="1.6"/>
<text x="1174.6" y="1595.46" font-size="23" fill="#926e33" textLength="42.8" lengthAdjust="spacingAndGlyphs">Sex</text>
<text x="1392.3" y="1595.46" font-size="23" text-anchor="end" fill="#926e33" textLength="62.16" lengthAdjust="spacingAndGlyphs">0.505</text>
<line x1="1135.1" y1="1614.12" x2="1159.9" y2="1614.12" stroke="#6b7b3b" stroke-width="1.6"/>
<text x="1174.6" y="1621.52" font-size="23" fill="#6b7b3b" textLength="84.22" lengthAdjust="spacingAndGlyphs">CA19-9</text>
<text x="1392.3" y="1621.52" font-size="23" text-anchor="end" fill="#6b7b3b" textLength="62.16" lengthAdjust="spacingAndGlyphs">0.642</text>
<line x1="1135.1" y1="1640.18" x2="1159.9" y2="1640.18" stroke="#3e8050" stroke-width="1.6"/>
<text x="1174.6" y="1647.58" font-size="23" fill="#3e8050" textLength="48.32" lengthAdjust="spacingAndGlyphs">Size</text>
<text x="1392.3" y="1647.58" font-size="23" text-anchor="end" fill="#3e8050" textLength="62.16" lengthAdjust="spacingAndGlyphs">0.507</text>
<line x1="1135.1" y1="1666.24" x2="1159.9" y2="1666.24" stroke="#2c7c71" stroke-width="1.6"/>
<text x="1174.6" y="1673.64" font-size="23" fill="#2c7c71" textLength="93.91" lengthAdjust="spacingAndGlyphs">Location</text>
<text x="1392.3" y="1673.64" font-size="23" text-anchor="end" fill="#2c7c71" textLength="62.16" lengthAdjust="spacingAndGlyphs">0.423</text>
<line x1="1135.1" y1="1692.3" x2="1159.9" y2="1692.3" stroke="#d35777" stroke-width="1.6"/>
<text x="1174.6" y="1699.7" font-size="23" fill="#d35777" textLength="148.41" lengthAdjust="spacingAndGlyphs">TSR+CA19-9</text>
<text x="1392.3" y="1699.7" font-size="23" text-anchor="end" fill="#d35777" textLength="62.16" lengthAdjust="spacingAndGlyphs">0.735</text>
<text x="1360.9" y="1533.6" font-size="23.5" text-anchor="middle" textLength="51.6" lengthAdjust="spacingAndGlyphs">AUC</text>
<line x1="1339.8" y1="1544" x2="1381.7" y2="1544" stroke="#1e1410" stroke-width="3.2"/>
<text x="768.5" y="1201" font-size="42" font-weight="bold">f</text>
<line x1="128.9" y1="2398.24" x2="128.9" y2="1865.36" stroke="#d2d2d2" stroke-width="2.5" stroke-dasharray="0.1 9.25" stroke-linecap="round"/>
<line x1="109.16" y1="2378.5" x2="642.04" y2="2378.5" stroke="#d2d2d2" stroke-width="2.5" stroke-dasharray="0.1 9.25" stroke-linecap="round"/>
<line x1="227.58" y1="2398.24" x2="227.58" y2="1865.36" stroke="#d2d2d2" stroke-width="2.5" stroke-dasharray="0.1 9.25" stroke-linecap="round"/>
<line x1="109.16" y1="2279.82" x2="642.04" y2="2279.82" stroke="#d2d2d2" stroke-width="2.5" stroke-dasharray="0.1 9.25" stroke-linecap="round"/>
<line x1="326.26" y1="2398.24" x2="326.26" y2="1865.36" stroke="#d2d2d2" stroke-width="2.5" stroke-dasharray="0.1 9.25" stroke-linecap="round"/>
<line x1="109.16" y1="2181.14" x2="642.04" y2="2181.14" stroke="#d2d2d2" stroke-width="2.5" stroke-dasharray="0.1 9.25" stroke-linecap="round"/>
<line x1="424.94" y1="2398.24" x2="424.94" y2="1865.36" stroke="#d2d2d2" stroke-width="2.5" stroke-dasharray="0.1 9.25" stroke-linecap="round"/>
<line x1="109.16" y1="2082.46" x2="642.04" y2="2082.46" stroke="#d2d2d2" stroke-width="2.5" stroke-dasharray="0.1 9.25" stroke-linecap="round"/>
<line x1="523.62" y1="2398.24" x2="523.62" y2="1865.36" stroke="#d2d2d2" stroke-width="2.5" stroke-dasharray="0.1 9.25" stroke-linecap="round"/>
<line x1="109.16" y1="1983.78" x2="642.04" y2="1983.78" stroke="#d2d2d2" stroke-width="2.5" stroke-dasharray="0.1 9.25" stroke-linecap="round"/>
<line x1="622.3" y1="2398.24" x2="622.3" y2="1865.36" stroke="#d2d2d2" stroke-width="2.5" stroke-dasharray="0.1 9.25" stroke-linecap="round"/>
<line x1="109.16" y1="1885.1" x2="642.04" y2="1885.1" stroke="#d2d2d2" stroke-width="2.5" stroke-dasharray="0.1 9.25" stroke-linecap="round"/>
<line x1="109.16" y1="2398.24" x2="642.04" y2="1865.36" stroke="#a6a6a8" stroke-width="2.4"/>
<polyline points="128.9,2378.5 296.16,2087.39 622.3,1885.1" fill="none" stroke="#c6644e" stroke-width="4.8" stroke-linejoin="round" stroke-linecap="round"/>
<polyline points="128.9,2378.5 370.17,2117 622.3,1885.1" fill="none" stroke="#926e33" stroke-width="4.8" stroke-linejoin="round" stroke-linecap="round"/>
<polyline points="128.9,2378.5 128.9,2333.84 140.55,2333.84 140.55,2305.26 153.25,2305.26 153.25,2262.51 164.9,2262.51 164.9,2233.3 176.55,2233.3 176.55,2218.48 213.6,2218.48 213.6,2203.66 236.9,2203.66 236.9,2103.12 248.54,2103.12 261.25,2088.3 261.25,2073.49 273.32,2058.67 285.6,2058.67 285.6,2030.09 417.71,2029.32 417.71,2015.09 465.3,2015.09 465.3,1972.39 477.67,1972.39 477.67,1957.59 490.04,1957.59 490.04,1942.98 501.46,1942.98 501.46,1913.94 525.64,1913.94 525.64,1899.33 573.8,1899.33 573.8,1885.1 620.43,1885.1" fill="none" stroke="#6b7b3b" stroke-width="4.8" stroke-linejoin="round" stroke-linecap="round"/>
<polyline points="128.9,2378.5 563.34,1980.82 622.3,1885.1" fill="none" stroke="#3e8050" stroke-width="4.8" stroke-linejoin="round" stroke-linecap="round"/>
<polyline points="128.9,2378.5 370.17,1971.94 622.3,1885.1" fill="none" stroke="#2c7c71" stroke-width="4.8" stroke-linejoin="round" stroke-linecap="round"/>
<polyline points="128.9,2378.5 128.9,2233.3 152.19,2233.3 152.19,2189.9 164.9,2189.9 164.9,2160.9 176.55,2160.9 176.55,2116.88 189.25,2116.88 189.25,2088.3 201.53,2088.3 201.53,2044.49 225.67,2044.49 225.67,2030.09 260.83,2030.09 260.83,2015.7 345.32,2015.7 345.32,1987.12 417.71,1986.06 417.71,1971.45 442.45,1971.45 442.45,1957.21 453.87,1957.21 453.87,1899.33 621.96,1899.33 621.96,1885.1" fill="none" stroke="#d35777" stroke-width="4.8" stroke-linejoin="round" stroke-linecap="round"/>
<rect x="109.16" y="1865.36" width="532.87" height="532.87" fill="none" stroke="#000" stroke-width="2.6"/>
<line x1="109.16" y1="2378.5" x2="96.66" y2="2378.5" stroke="#000" stroke-width="2.2"/>
<text x="84.6" y="2388.4" font-size="29" text-anchor="end">0.0</text>
<line x1="128.9" y1="2398.24" x2="128.9" y2="2410.74" stroke="#000" stroke-width="2.2"/>
<text x="128.9" y="2444" font-size="29" text-anchor="middle">0.0</text>
<line x1="109.16" y1="2279.82" x2="96.66" y2="2279.82" stroke="#000" stroke-width="2.2"/>
<text x="84.6" y="2289.72" font-size="29" text-anchor="end">0.2</text>
<line x1="227.58" y1="2398.24" x2="227.58" y2="2410.74" stroke="#000" stroke-width="2.2"/>
<text x="227.58" y="2444" font-size="29" text-anchor="middle">0.2</text>
<line x1="109.16" y1="2181.14" x2="96.66" y2="2181.14" stroke="#000" stroke-width="2.2"/>
<text x="84.6" y="2191.04" font-size="29" text-anchor="end">0.4</text>
<line x1="326.26" y1="2398.24" x2="326.26" y2="2410.74" stroke="#000" stroke-width="2.2"/>
<text x="326.26" y="2444" font-size="29" text-anchor="middle">0.4</text>
<line x1="109.16" y1="2082.46" x2="96.66" y2="2082.46" stroke="#000" stroke-width="2.2"/>
<text x="84.6" y="2092.36" font-size="29" text-anchor="end">0.6</text>
<line x1="424.94" y1="2398.24" x2="424.94" y2="2410.74" stroke="#000" stroke-width="2.2"/>
<text x="424.94" y="2444" font-size="29" text-anchor="middle">0.6</text>
<line x1="109.16" y1="1983.78" x2="96.66" y2="1983.78" stroke="#000" stroke-width="2.2"/>
<text x="84.6" y="1993.68" font-size="29" text-anchor="end">0.8</text>
<line x1="523.62" y1="2398.24" x2="523.62" y2="2410.74" stroke="#000" stroke-width="2.2"/>
<text x="523.62" y="2444" font-size="29" text-anchor="middle">0.8</text>
<line x1="109.16" y1="1885.1" x2="96.66" y2="1885.1" stroke="#000" stroke-width="2.2"/>
<text x="84.6" y="1895" font-size="29" text-anchor="end">1.0</text>
<line x1="622.3" y1="2398.24" x2="622.3" y2="2410.74" stroke="#000" stroke-width="2.2"/>
<text x="622.3" y="2444" font-size="29" text-anchor="middle">1.0</text>
<text x="375.4" y="2487" font-size="29" text-anchor="middle">1 – Specificity</text>
<text x="24.1" y="2115.8" font-size="29" text-anchor="middle" transform="rotate(-90 24.1 2115.8)">Sensitivity</text>
<line x1="346.8" y1="2233.2" x2="372.3" y2="2233.2" stroke="#c6644e" stroke-width="1.6"/>
<text x="385.4" y="2240.6" font-size="23" fill="#c6644e" textLength="44.2" lengthAdjust="spacingAndGlyphs">Age</text>
<text x="611.7" y="2240.6" font-size="23" text-anchor="end" fill="#c6644e" textLength="62.16" lengthAdjust="spacingAndGlyphs">0.623</text>
<line x1="346.8" y1="2259.82" x2="372.3" y2="2259.82" stroke="#926e33" stroke-width="1.6"/>
<text x="385.4" y="2267.22" font-size="23" fill="#926e33" textLength="42.8" lengthAdjust="spacingAndGlyphs">Sex</text>
<text x="611.7" y="2267.22" font-size="23" text-anchor="end" fill="#926e33" textLength="62.16" lengthAdjust="spacingAndGlyphs">0.521</text>
<line x1="346.8" y1="2286.44" x2="372.3" y2="2286.44" stroke="#6b7b3b" stroke-width="1.6"/>
<text x="385.4" y="2293.84" font-size="23" fill="#6b7b3b" textLength="84.22" lengthAdjust="spacingAndGlyphs">CA19-9</text>
<text x="611.7" y="2293.84" font-size="23" text-anchor="end" fill="#6b7b3b" textLength="62.16" lengthAdjust="spacingAndGlyphs">0.680</text>
<line x1="346.8" y1="2313.06" x2="372.3" y2="2313.06" stroke="#3e8050" stroke-width="1.6"/>
<text x="385.4" y="2320.46" font-size="23" fill="#3e8050" textLength="48.32" lengthAdjust="spacingAndGlyphs">Size</text>
<text x="611.7" y="2320.46" font-size="23" text-anchor="end" fill="#3e8050" textLength="62.16" lengthAdjust="spacingAndGlyphs">0.464</text>
<line x1="346.8" y1="2339.68" x2="372.3" y2="2339.68" stroke="#2c7c71" stroke-width="1.6"/>
<text x="385.4" y="2347.08" font-size="23" fill="#2c7c71" textLength="93.91" lengthAdjust="spacingAndGlyphs">Location</text>
<text x="611.7" y="2347.08" font-size="23" text-anchor="end" fill="#2c7c71" textLength="62.16" lengthAdjust="spacingAndGlyphs">0.668</text>
<line x1="346.8" y1="2366.3" x2="372.3" y2="2366.3" stroke="#d35777" stroke-width="1.6"/>
<text x="385.4" y="2373.7" font-size="23" fill="#d35777" textLength="148.41" lengthAdjust="spacingAndGlyphs">TSR+CA19-9</text>
<text x="611.7" y="2373.7" font-size="23" text-anchor="end" fill="#d35777" textLength="62.16" lengthAdjust="spacingAndGlyphs">0.780</text>
<text x="580" y="2204.5" font-size="23.5" text-anchor="middle" textLength="51.6" lengthAdjust="spacingAndGlyphs">AUC</text>
<line x1="558.5" y1="2214.7" x2="601.3" y2="2214.7" stroke="#1e1410" stroke-width="3.2"/>
<text x="-1" y="1877.2" font-size="42" font-weight="bold">g</text>
<line x1="898.6" y1="2398.24" x2="898.6" y2="1865.36" stroke="#d2d2d2" stroke-width="2.5" stroke-dasharray="0.1 9.25" stroke-linecap="round"/>
<line x1="878.86" y1="2378.5" x2="1411.74" y2="2378.5" stroke="#d2d2d2" stroke-width="2.5" stroke-dasharray="0.1 9.25" stroke-linecap="round"/>
<line x1="997.28" y1="2398.24" x2="997.28" y2="1865.36" stroke="#d2d2d2" stroke-width="2.5" stroke-dasharray="0.1 9.25" stroke-linecap="round"/>
<line x1="878.86" y1="2279.82" x2="1411.74" y2="2279.82" stroke="#d2d2d2" stroke-width="2.5" stroke-dasharray="0.1 9.25" stroke-linecap="round"/>
<line x1="1095.96" y1="2398.24" x2="1095.96" y2="1865.36" stroke="#d2d2d2" stroke-width="2.5" stroke-dasharray="0.1 9.25" stroke-linecap="round"/>
<line x1="878.86" y1="2181.14" x2="1411.74" y2="2181.14" stroke="#d2d2d2" stroke-width="2.5" stroke-dasharray="0.1 9.25" stroke-linecap="round"/>
<line x1="1194.64" y1="2398.24" x2="1194.64" y2="1865.36" stroke="#d2d2d2" stroke-width="2.5" stroke-dasharray="0.1 9.25" stroke-linecap="round"/>
<line x1="878.86" y1="2082.46" x2="1411.74" y2="2082.46" stroke="#d2d2d2" stroke-width="2.5" stroke-dasharray="0.1 9.25" stroke-linecap="round"/>
<line x1="1293.32" y1="2398.24" x2="1293.32" y2="1865.36" stroke="#d2d2d2" stroke-width="2.5" stroke-dasharray="0.1 9.25" stroke-linecap="round"/>
<line x1="878.86" y1="1983.78" x2="1411.74" y2="1983.78" stroke="#d2d2d2" stroke-width="2.5" stroke-dasharray="0.1 9.25" stroke-linecap="round"/>
<line x1="1392" y1="2398.24" x2="1392" y2="1865.36" stroke="#d2d2d2" stroke-width="2.5" stroke-dasharray="0.1 9.25" stroke-linecap="round"/>
<line x1="878.86" y1="1885.1" x2="1411.74" y2="1885.1" stroke="#d2d2d2" stroke-width="2.5" stroke-dasharray="0.1 9.25" stroke-linecap="round"/>
<line x1="878.86" y1="2398.24" x2="1411.74" y2="1865.36" stroke="#a6a6a8" stroke-width="2.4"/>
<polyline points="898.6,2378.5 1216.35,2100.72 1392,1885.1" fill="none" stroke="#c6644e" stroke-width="4.8" stroke-linejoin="round" stroke-linecap="round"/>
<polyline points="898.6,2378.5 1165.04,2039.04 1392,1885.1" fill="none" stroke="#926e33" stroke-width="4.8" stroke-linejoin="round" stroke-linecap="round"/>
<polyline points="898.6,2378.5 898.6,2347.42 955.14,2347.42 955.14,2316.08 966.69,2316.08 966.69,2285.44 983.61,2285.44 983.61,2223.38 1040.16,2223.38 1040.16,2193.13 1051.9,2193.13 1051.9,2131.8 1102.87,2131.8 1102.87,2100.42 1108.44,2100.42 1108.44,2069.63 1119.45,2069.63 1119.45,2039.04 1153.69,2039.04 1165.04,2008.45 1181.81,2008.45 1181.81,1977.86 1193.16,1977.86 1193.16,1947.02 1329.83,1947.02 1329.83,1915.69 1374.73,1915.69 1392,1885.1" fill="none" stroke="#6b7b3b" stroke-width="4.8" stroke-linejoin="round" stroke-linecap="round"/>
<polyline points="898.6,2378.5 915.67,2378.5 1023.92,2316.08 1056.98,2008.45 1392,1885.1" fill="none" stroke="#3e8050" stroke-width="4.8" stroke-linejoin="round" stroke-linecap="round"/>
<polyline points="898.6,2378.5 1114.71,2194.96 1392,1885.1" fill="none" stroke="#2c7c71" stroke-width="4.8" stroke-linejoin="round" stroke-linecap="round"/>
<polyline points="898.6,2378.5 898.6,2316.08 909.8,2316.08 909.8,2254.66 915.67,2254.66 915.67,2223.38 932.55,2223.38 932.55,2131.8 949.62,2131.8 949.62,2100.42 988.74,2100.42 988.74,2069.63 995.55,2069.63 995.55,2039.04 1141.85,2039.04 1141.85,2008.45 1199.08,2008.45 1199.08,1947.02 1232.63,1947.02 1232.63,1915.69 1244.47,1915.69 1244.47,1885.1 1392,1885.1" fill="none" stroke="#d35777" stroke-width="4.8" stroke-linejoin="round" stroke-linecap="round"/>
<rect x="878.86" y="1865.36" width="532.87" height="532.87" fill="none" stroke="#000" stroke-width="2.6"/>
<line x1="878.86" y1="2378.5" x2="866.36" y2="2378.5" stroke="#000" stroke-width="2.2"/>
<text x="855.4" y="2388.1" font-size="29" text-anchor="end">0.0</text>
<line x1="898.6" y1="2398.24" x2="898.6" y2="2410.74" stroke="#000" stroke-width="2.2"/>
<text x="898.6" y="2444" font-size="29" text-anchor="middle">0.0</text>
<line x1="878.86" y1="2279.82" x2="866.36" y2="2279.82" stroke="#000" stroke-width="2.2"/>
<text x="855.4" y="2289.42" font-size="29" text-anchor="end">0.2</text>
<line x1="997.28" y1="2398.24" x2="997.28" y2="2410.74" stroke="#000" stroke-width="2.2"/>
<text x="997.28" y="2444" font-size="29" text-anchor="middle">0.2</text>
<line x1="878.86" y1="2181.14" x2="866.36" y2="2181.14" stroke="#000" stroke-width="2.2"/>
<text x="855.4" y="2190.74" font-size="29" text-anchor="end">0.4</text>
<line x1="1095.96" y1="2398.24" x2="1095.96" y2="2410.74" stroke="#000" stroke-width="2.2"/>
<text x="1095.96" y="2444" font-size="29" text-anchor="middle">0.4</text>
<line x1="878.86" y1="2082.46" x2="866.36" y2="2082.46" stroke="#000" stroke-width="2.2"/>
<text x="855.4" y="2092.06" font-size="29" text-anchor="end">0.6</text>
<line x1="1194.64" y1="2398.24" x2="1194.64" y2="2410.74" stroke="#000" stroke-width="2.2"/>
<text x="1194.64" y="2444" font-size="29" text-anchor="middle">0.6</text>
<line x1="878.86" y1="1983.78" x2="866.36" y2="1983.78" stroke="#000" stroke-width="2.2"/>
<text x="855.4" y="1993.38" font-size="29" text-anchor="end">0.8</text>
<line x1="1293.32" y1="2398.24" x2="1293.32" y2="2410.74" stroke="#000" stroke-width="2.2"/>
<text x="1293.32" y="2444" font-size="29" text-anchor="middle">0.8</text>
<line x1="878.86" y1="1885.1" x2="866.36" y2="1885.1" stroke="#000" stroke-width="2.2"/>
<text x="855.4" y="1894.7" font-size="29" text-anchor="end">1.0</text>
<line x1="1392" y1="2389.24" x2="1392" y2="2402.74" stroke="#000" stroke-width="2.2"/>
<text x="1392" y="2435.3" font-size="29" text-anchor="middle">1.0</text>
<text x="1145.3" y="2487" font-size="29" text-anchor="middle">1 – Specificity</text>
<text x="794.5" y="2132" font-size="29" text-anchor="middle" transform="rotate(-90 794.5 2132)">Sensitivity</text>
<line x1="1135" y1="2232.9" x2="1159.2" y2="2232.9" stroke="#c6644e" stroke-width="1.6"/>
<text x="1174.6" y="2240.3" font-size="23" fill="#c6644e" textLength="44.2" lengthAdjust="spacingAndGlyphs">Age</text>
<text x="1396.7" y="2240.3" font-size="23" text-anchor="end" fill="#c6644e" textLength="62.16" lengthAdjust="spacingAndGlyphs">0.459</text>
<line x1="1135" y1="2259.6" x2="1159.2" y2="2259.6" stroke="#926e33" stroke-width="1.6"/>
<text x="1174.6" y="2267" font-size="23" fill="#926e33" textLength="42.8" lengthAdjust="spacingAndGlyphs">Sex</text>
<text x="1396.7" y="2267" font-size="23" text-anchor="end" fill="#926e33" textLength="62.16" lengthAdjust="spacingAndGlyphs">0.574</text>
<line x1="1135" y1="2286.3" x2="1159.2" y2="2286.3" stroke="#6b7b3b" stroke-width="1.6"/>
<text x="1174.6" y="2293.7" font-size="23" fill="#6b7b3b" textLength="84.22" lengthAdjust="spacingAndGlyphs">CA19-9</text>
<text x="1396.7" y="2293.7" font-size="23" text-anchor="end" fill="#6b7b3b" textLength="62.16" lengthAdjust="spacingAndGlyphs">0.603</text>
<line x1="1135" y1="2313" x2="1159.2" y2="2313" stroke="#3e8050" stroke-width="1.6"/>
<text x="1174.6" y="2320.4" font-size="23" fill="#3e8050" textLength="48.32" lengthAdjust="spacingAndGlyphs">Size</text>
<text x="1396.7" y="2320.4" font-size="23" text-anchor="end" fill="#3e8050" textLength="62.16" lengthAdjust="spacingAndGlyphs">0.637</text>
<line x1="1135" y1="2339.7" x2="1159.2" y2="2339.7" stroke="#2c7c71" stroke-width="1.6"/>
<text x="1174.6" y="2347.1" font-size="23" fill="#2c7c71" textLength="93.91" lengthAdjust="spacingAndGlyphs">Location</text>
<text x="1396.7" y="2347.1" font-size="23" text-anchor="end" fill="#2c7c71" textLength="62.16" lengthAdjust="spacingAndGlyphs">0.469</text>
<line x1="1135" y1="2366.4" x2="1159.2" y2="2366.4" stroke="#d35777" stroke-width="1.6"/>
<text x="1174.6" y="2373.8" font-size="23" fill="#d35777" textLength="148.41" lengthAdjust="spacingAndGlyphs">TSR+CA19-9</text>
<text x="1396.7" y="2373.8" font-size="23" text-anchor="end" fill="#d35777" textLength="62.16" lengthAdjust="spacingAndGlyphs">0.759</text>
<text x="1365.4" y="2194.2" font-size="23.5" text-anchor="middle" textLength="51.6" lengthAdjust="spacingAndGlyphs">AUC</text>
<line x1="1345.4" y1="2200.7" x2="1386.3" y2="2200.7" stroke="#1e1410" stroke-width="3.2"/>
<text x="768.5" y="1877" font-size="42" font-weight="bold">h</text>
</svg>
</body></html>
